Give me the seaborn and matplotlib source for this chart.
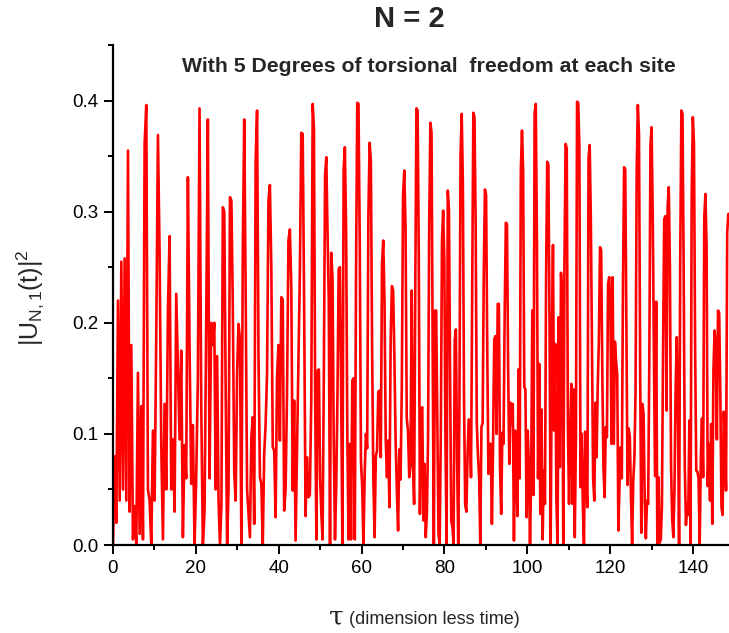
import numpy as np
import pandas as pd
import matplotlib
matplotlib.use("Agg")
import matplotlib.pyplot as plt
import seaborn as sns
from matplotlib.ticker import MultipleLocator

# ---- data (6 consecutive tau segments) ----
seg_bounds = [0.0, 24.1, 48.2, 72.4, 96.5, 120.6, 148.8]

seg1 = [0.0, 0.08, 0.02, 0.22, 0.04, 0.255, 0.05, 0.258, 0.04, 0.355, 0.03, 0.18,
        0.005, 0.035, 0.0, 0.155, 0.01, 0.125, 0.005, 0.361, 0.396, 0.05, 0.04, 0.0,
        0.103, 0.04, 0.19, 0.369, 0.262, 0.09, 0.005, 0.127, 0.05, 0.21, 0.278, 0.05,
        0.095, 0.03, 0.226, 0.16, 0.095, 0.175, 0.007, 0.09, 0.06, 0.331, 0.18, 0.055,
        0.108, 0.0, 0.06, 0.15, 0.393, 0.13, 0.0, 0.03, 0.199, 0.383, 0.06, 0.2]

seg2 = [0.18, 0.2, 0.05, 0.17, 0.04, 0.0, 0.035, 0.304, 0.30, 0.14, 0.0, 0.05, 0.313,
        0.31, 0.214, 0.065, 0.04, 0.155, 0.199, 0.185, 0.0, 0.265, 0.383, 0.229, 0.05,
        0.028, 0.007, 0.097, 0.115, 0.019, 0.345, 0.391, 0.17, 0.061, 0.055, 0.0, 0.082,
        0.109, 0.155, 0.31, 0.324, 0.249, 0.088, 0.085, 0.025, 0.151, 0.18, 0.094, 0.223,
        0.221, 0.031, 0.049, 0.136, 0.274, 0.284, 0.232, 0.049, 0.13, 0.004, 0.085, 0.169,
        0.245, 0.371, 0.37, 0.214, 0.026, 0.079, 0.043, 0.045, 0.13]

seg3 = [0.397, 0.376, 0.13, 0.005, 0.157, 0.158, 0.06, 0.028, 0.005, 0.153, 0.333, 0.349,
        0.28, 0.22, 0.0, 0.263, 0.24, 0.097, 0.005, 0.052, 0.133, 0.248, 0.25, 0.136, 0.0,
        0.338, 0.358, 0.283, 0.097, 0.005, 0.091, 0.005, 0.148, 0.15, 0.005, 0.24, 0.398,
        0.397, 0.274, 0.076, 0.052, 0.0, 0.064, 0.1, 0.087, 0.297, 0.362, 0.345, 0.176,
        0.061, 0.007, 0.08, 0.085, 0.138, 0.139, 0.079, 0.253, 0.274, 0.22, 0.095, 0.061,
        0.094, 0.034, 0.185, 0.233, 0.229, 0.169, 0.094, 0.049, 0.013, 0.086, 0.059, 0.144,
        0.315, 0.337, 0.286, 0.114, 0.103, 0.061, 0.073, 0.229]

seg4 = [0.073, 0.037, 0.229, 0.393, 0.391, 0.262, 0.028, 0.121, 0.124, 0.022, 0.073, 0.007,
        0.028, 0.095, 0.288, 0.38, 0.371, 0.172, 0.001, 0.211, 0.211, 0.106, 0.01, 0.001,
        0.1, 0.274, 0.301, 0.258, 0.094, 0.001, 0.319, 0.301, 0.151, 0.022, 0.016, 0.001,
        0.185, 0.194, 0.08, 0.001, 0.124, 0.35, 0.388, 0.325, 0.128, 0.036, 0.03, 0.079,
        0.113, 0.112, 0.061, 0.218, 0.389, 0.385, 0.289, 0.109, 0.08, 0.061, 0.001, 0.106,
        0.11, 0.244, 0.32, 0.315, 0.175, 0.064, 0.091, 0.091, 0.019, 0.091, 0.185, 0.188,
        0.1, 0.217, 0.217, 0.07, 0.028, 0.101, 0.091, 0.208, 0.29, 0.289, 0.156, 0.073,
        0.128, 0.109]

seg5 = [0.127, 0.004, 0.103, 0.073, 0.026, 0.158, 0.06, 0.337, 0.373, 0.337, 0.142, 0.14,
        0.025, 0.103, 0.071, 0.001, 0.061, 0.211, 0.045, 0.389, 0.397, 0.279, 0.06, 0.163,
        0.028, 0.122, 0.005, 0.067, 0.037, 0.241, 0.345, 0.342, 0.199, 0.001, 0.175, 0.27,
        0.103, 0.181, 0.039, 0.001, 0.205, 0.07, 0.245, 0.222, 0.001, 0.253, 0.361, 0.357,
        0.109, 0.037, 0.097, 0.145, 0.037, 0.14, 0.007, 0.097, 0.399, 0.398, 0.36, 0.052,
        0.1, 0.038, 0.0, 0.102, 0.055, 0.034, 0.348, 0.36, 0.293, 0.175, 0.06, 0.04, 0.128,
        0.079, 0.143, 0.184, 0.268, 0.265, 0.154, 0.069, 0.043, 0.106, 0.097, 0.235, 0.241,
        0.217, 0.091]

seg6 = [0.241, 0.091, 0.183, 0.165, 0.153, 0.013, 0.055, 0.088, 0.06, 0.232, 0.34, 0.338,
        0.193, 0.054, 0.105, 0.097, 0.044, 0.001, 0.058, 0.079, 0.139, 0.337, 0.396, 0.37,
        0.163, 0.011, 0.127, 0.118, 0.04, 0.006, 0.04, 0.037, 0.164, 0.36, 0.376, 0.295,
        0.173, 0.062, 0.219, 0.001, 0.061, 0.002, 0.005, 0.034, 0.173, 0.293, 0.296, 0.121,
        0.304, 0.322, 0.25, 0.07, 0.023, 0.007, 0.052, 0.142, 0.187, 0.121, 0.001, 0.256,
        0.391, 0.388, 0.247, 0.07, 0.018, 0.037, 0.027, 0.112, 0.001, 0.313, 0.385, 0.361,
        0.178, 0.067, 0.066, 0.06, 0.001, 0.079, 0.114, 0.061, 0.295, 0.316, 0.268, 0.053,
        0.091, 0.04, 0.109, 0.019, 0.157, 0.193, 0.179, 0.095, 0.211, 0.209, 0.137, 0.034,
        0.027, 0.12, 0.094, 0.049, 0.281, 0.298, 0.298]

segments = [seg1, seg2, seg3, seg4, seg5, seg6]

x_ticks = [0, 20, 40, 60, 80, 100, 120, 140]
y_ticks = [0.0, 0.1, 0.2, 0.3, 0.4]

taus, vals = [], []
for i, seg in enumerate(segments):
    t = np.linspace(seg_bounds[i], seg_bounds[i + 1], len(seg), endpoint=(i == len(segments) - 1))
    taus.extend(t)
    vals.extend(seg)
df = pd.DataFrame({"tau": taus, "U": vals})

# ---- figure ----
sns.set_style("ticks")
plt.rcParams["font.family"] = ["Liberation Sans", "DejaVu Sans"]
plt.rcParams["mathtext.fontset"] = "custom"
plt.rcParams["mathtext.rm"] = "Liberation Sans"
plt.rcParams["mathtext.it"] = "Liberation Sans"

W, H = 729, 633
fig = plt.figure(figsize=(W / 100, H / 100), dpi=100)
x0px, x1px = 113, 113 + 150 * 4.143
ytop, ybot = 45, 545
ax = fig.add_axes([x0px / W, (H - ybot) / H, (x1px - x0px) / W, (ybot - ytop) / H])

sns.lineplot(data=df, x="tau", y="U", ax=ax, color="#ff0000", linewidth=1.9,
             sort=False, estimator=None)

ax.set_xlim(0, 150)
ax.set_ylim(0, 0.45)
ax.set_xticks(x_ticks)
ax.set_yticks(y_ticks)
ax.set_yticklabels([f"{v:.1f}" for v in y_ticks])
ax.xaxis.set_minor_locator(MultipleLocator(10))
ax.yaxis.set_minor_locator(MultipleLocator(0.05))
ax.tick_params(which="major", direction="out", length=6.5, width=1.4, labelsize=13.5,
               colors="black", pad=4)
ax.tick_params(which="minor", direction="out", length=3.5, width=1.4, colors="black")
for s in ["top", "right"]:
    ax.spines[s].set_visible(False)
for s in ["left", "bottom"]:
    ax.spines[s].set_linewidth(1.6)
    ax.spines[s].set_color("black")
ax.set_xlabel("")
ax.set_ylabel("")

fig.text(409 / W, 1 - 19 / H, "N = 2", ha="center", va="center",
         fontsize=21, fontweight="bold")
fig.text(429 / W, 1 - 66 / H, "With 5 Degrees of torsional  freedom at each site",
         ha="center", va="center", fontsize=15.3, fontweight="bold")
fig.text(30 / W, 1 - 298 / H, r"$\mathregular{|U_{N,1}(t)|^2}$", rotation=90,
         ha="center", va="center", fontsize=18)
fig.text(336 / W, 1 - 617 / H, "τ", ha="center", va="center", fontsize=19,
         family=["DejaVu Serif", "DejaVu Sans"])
fig.text(349 / W, 1 - 620 / H, "(dimension less time)", ha="left", va="center",
         fontsize=13)

fig.savefig("out.png", dpi=100)
